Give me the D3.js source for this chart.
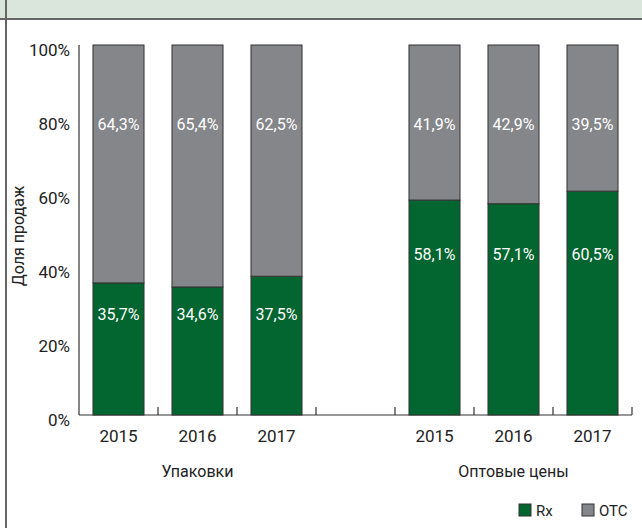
<!DOCTYPE html>
<html>
<head>
<meta charset="utf-8">
<script src="https://cdn.jsdelivr.net/npm/d3@7"></script>
<style>
    body { margin: 0; background: #fff; }
    svg { display: block; font-family: Roboto, "Noto Sans", sans-serif; }
</style>
</head>
<body>
<div id="chart"></div>
<script>
// Chart data
const years = ['2015', '2016', '2017'];
const groups = ['Упаковки', 'Оптовые цены'];
const rxPackages = [35.7, 34.6, 37.5];
const otcPackages = [64.3, 65.4, 62.5];
const rxPrices = [58.1, 57.1, 60.5];
const otcPrices = [41.9, 42.9, 39.5];
const yTicks = [0, 20, 40, 60, 80, 100];
const seriesNames = ['Rx', 'OTC'];

const width = 642, height = 528;
const green = '#03652f', gray = '#858689', edge = '#333';

const svg = d3.select('#chart')
    .append('svg')
    .attr('width', width)
    .attr('height', height);

// Header band + frame
svg.append('rect')
    .attr('x', 0).attr('y', 0)
    .attr('width', width).attr('height', 18)
    .attr('fill', '#dae6dc');
svg.append('line')
    .attr('x1', 0).attr('x2', width)
    .attr('y1', 19).attr('y2', 19)
    .attr('stroke', '#666').attr('stroke-width', 2);
svg.append('line')
    .attr('x1', 6).attr('x2', 6)
    .attr('y1', 0).attr('y2', height)
    .attr('stroke', '#666').attr('stroke-width', 2);

// Build the slots: 3 bars, empty slot, 3 bars
const rows = [];
years.forEach((yr, i) => rows.push({ key: 'a' + yr, year: yr, group: 0, rx: rxPackages[i], otc: otcPackages[i] }));
const gapKey = 'gap';
years.forEach((yr, i) => rows.push({ key: 'b' + yr, year: yr, group: 1, rx: rxPrices[i], otc: otcPrices[i] }));
const slots = rows.slice(0, 3).map(d => d.key).concat([gapKey], rows.slice(3).map(d => d.key));

const x = d3.scaleBand()
    .domain(slots)
    .range([79, 632])
    .paddingInner(0.354)
    .paddingOuter(0.177);

const y = d3.scaleLinear()
    .domain([0, 100])
    .range([415, 45]);

const step = x.step();
const slotStart = k => x(k) - step * x.paddingInner() / 2;

// Axes lines
svg.append('line')
    .attr('x1', 79).attr('x2', 79)
    .attr('y1', y(100)).attr('y2', y(0))
    .attr('stroke', edge).attr('stroke-width', 1.2);
svg.append('line')
    .attr('x1', 79).attr('x2', 632)
    .attr('y1', y(0)).attr('y2', y(0))
    .attr('stroke', edge).attr('stroke-width', 1.2);

// x ticks at slot boundaries
slots.forEach(k => {
    const bx = Math.round(slotStart(k) + step);
    svg.append('line')
        .attr('x1', bx).attr('x2', bx)
        .attr('y1', y(0)).attr('y2', y(0) - 8)
        .attr('stroke', edge).attr('stroke-width', 1.2);
});

// y tick labels
svg.selectAll('.ytick')
    .data(yTicks)
    .enter()
    .append('text')
    .attr('x', 70)
    .attr('y', d => y(d) + 11)
    .attr('text-anchor', 'end')
    .attr('font-size', 17)
    .attr('fill', '#222')
    .text(d => d + '%');

// y axis title
svg.append('text')
    .attr('transform', `translate(24, ${y(50) + 6}) rotate(-90)`)
    .attr('text-anchor', 'middle')
    .attr('font-size', 16)
    .attr('fill', '#222')
    .text('Доля продаж');

// Bars
const fmt = v => d3.format('.1f')(v).replace('.', ',') + '%';
const bars = svg.selectAll('.bar')
    .data(rows)
    .enter()
    .append('g')
    .attr('class', 'bar');

bars.append('rect')
    .attr('x', d => x(d.key))
    .attr('y', d => y(d.rx))
    .attr('width', x.bandwidth())
    .attr('height', d => y(0) - y(d.rx))
    .attr('fill', green)
    .attr('stroke', edge).attr('stroke-width', 1);

bars.append('rect')
    .attr('x', d => x(d.key))
    .attr('y', d => y(d.rx + d.otc))
    .attr('width', x.bandwidth())
    .attr('height', d => y(d.rx) - y(d.rx + d.otc))
    .attr('fill', gray)
    .attr('stroke', edge).attr('stroke-width', 1);

// Label levels (in % units) used by the original layout
const rxLabelLevel = [27.2, 43.4];
const otcLabelLevel = 78.6;

bars.append('text')
    .attr('x', d => x(d.key) + x.bandwidth() / 2)
    .attr('y', d => y(rxLabelLevel[d.group]) + 6)
    .attr('text-anchor', 'middle')
    .attr('font-size', 16)
    .attr('fill', '#fff')
    .text(d => fmt(d.rx));

bars.append('text')
    .attr('x', d => x(d.key) + x.bandwidth() / 2)
    .attr('y', d => y(otcLabelLevel) + 6)
    .attr('text-anchor', 'middle')
    .attr('font-size', 16)
    .attr('fill', '#fff')
    .text(d => fmt(d.otc));

// Year labels
svg.selectAll('.year')
    .data(rows)
    .enter()
    .append('text')
    .attr('x', d => x(d.key) + x.bandwidth() / 2)
    .attr('y', 442)
    .attr('text-anchor', 'middle')
    .attr('font-size', 17)
    .attr('fill', '#222')
    .text(d => d.year);

// Group labels
groups.forEach((g, i) => {
    const first = rows[i * 3].key, last = rows[i * 3 + 2].key;
    const cx = (slotStart(first) + slotStart(last) + step) / 2;
    svg.append('text')
        .attr('x', cx)
        .attr('y', 477)
        .attr('text-anchor', 'middle')
        .attr('font-size', 16)
        .attr('fill', '#222')
        .text(g);
});

// Legend
const legendX = [519, 582];
const legendColors = [green, gray];
seriesNames.forEach((name, i) => {
    svg.append('rect')
        .attr('x', legendX[i]).attr('y', 504)
        .attr('width', 12).attr('height', 12)
        .attr('fill', legendColors[i])
        .attr('stroke', edge).attr('stroke-width', 1);
    svg.append('text')
        .attr('x', legendX[i] + 17)
        .attr('y', 516)
        .attr('font-size', 15)
        .attr('fill', '#222')
        .text(name);
});
</script>
</body>
</html>
